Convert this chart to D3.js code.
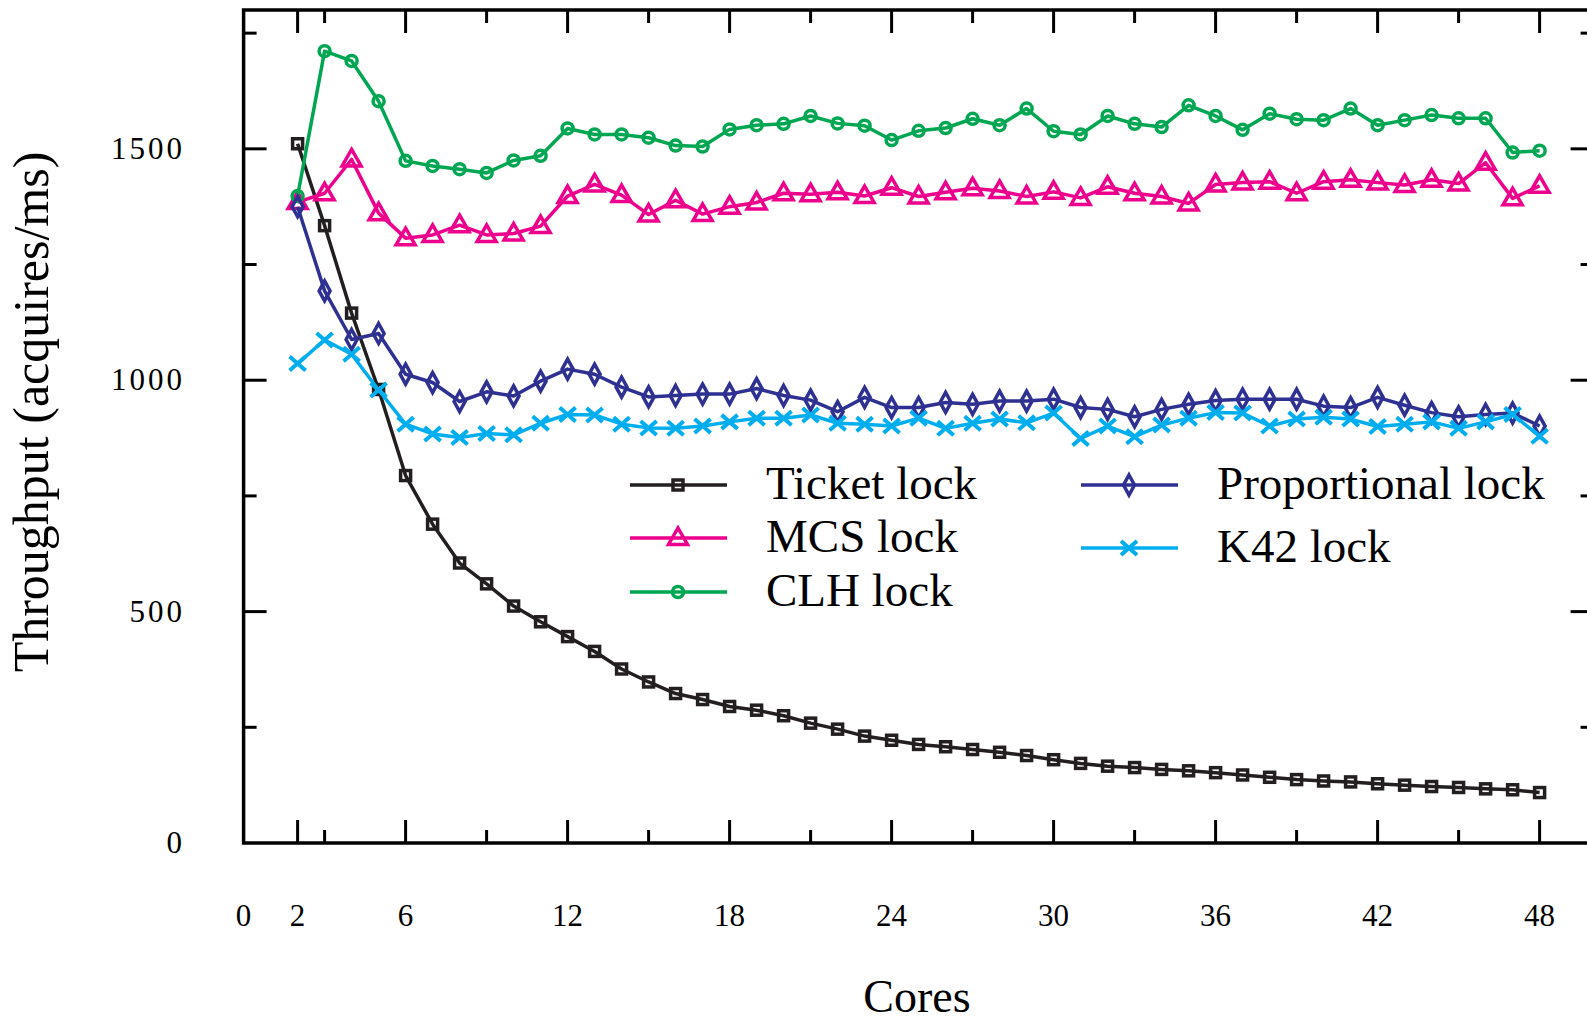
<!DOCTYPE html>
<html>
<head>
<meta charset="utf-8">
<script src="https://d3js.org/d3.v7.min.js"></script>
<style>
body { margin: 0; background: #fff; }
text { font-family: "Liberation Serif", "Times New Roman", serif; fill: #000; }
</style>
</head>
<body>
<div id="chart"></div>
<script>
var cores = [2,3,4,5,6,7,8,9,10,11,12,13,14,15,16,17,18,19,20,21,22,23,24,25,
    26,27,28,29,30,31,32,33,34,35,36,37,38,39,40,41,42,43,44,45,46,47,48];

var ticketLock = [1511,1334,1145,980,794,689,605,560,512,478,446,414,376,348,323,310,295,287,275,259,
    246,231,222,213,208,202,196,189,180,172,166,163,159,156,152,147,142,137,134,132,128,125,122,120,117,115,109];
var mcsLock = [1385,1404,1477,1361,1307,1314,1335,1314,1317,1333,1398,1423,1400,1358,1389,1359,1375,1384,1404,1402,
    1406,1398,1416,1397,1406,1415,1409,1397,1407,1394,1418,1404,1397,1382,1423,1427,1429,1404,1429,1433,1427,1422,1433,1425,1470,1393,1420];
var clhLock = [1398,1711,1690,1603,1474,1463,1456,1448,1475,1485,1544,1531,1531,1524,1507,1505,1542,1551,1554,1571,
    1555,1550,1519,1539,1545,1565,1551,1587,1538,1531,1571,1554,1547,1594,1571,1541,1576,1564,1562,1587,1551,1562,1573,1566,1566,1492,1496];
var propLock = [1375,1193,1088,1101,1013,995,954,975,966,998,1024,1013,985,964,967,970,970,982,967,957,
    932,963,941,941,952,948,955,955,959,941,937,921,937,948,956,959,959,959,944,941,963,946,930,921,926,929,901];
var k42Lock = [1036,1087,1056,979,905,884,876,885,882,907,926,925,905,897,896,901,910,918,918,925,
    907,905,901,918,896,907,916,908,929,874,901,878,903,918,930,929,901,916,920,916,900,905,910,896,910,926,879];

var seriesNames = ["Ticket lock", "MCS lock", "CLH lock", "Proportional lock", "K42 lock"];
var seriesColors = ["#231f20", "#ec008c", "#00a651", "#2e3192", "#00aeef"];
var seriesMarkers = ["square", "triangle", "circle", "diamond", "cross"];

var xTickLabels = [0, 2, 6, 12, 18, 24, 30, 36, 42, 48];
var xMinorTicks = [3, 9, 15, 21, 27, 33, 39, 45];
var yTickLabels = [0, 500, 1000, 1500];
var yMinorTicks = [250, 750, 1250, 1750];

var width = 1587, height = 1021;

var x = d3.scaleLinear()
    .domain([0, 50])
    .range([243.6, 1593.6]);
var y = d3.scaleLinear()
    .domain([0, 1800])
    .range([843, 10]);

var svg = d3.select("#chart")
    .append("svg")
    .attr("width", width)
    .attr("height", height);

// frame
svg.append("rect")
    .attr("x", x(0))
    .attr("y", y(1800))
    .attr("width", x(50) - x(0))
    .attr("height", y(0) - y(1800))
    .attr("fill", "none")
    .attr("stroke", "#000")
    .attr("stroke-width", 3.5);

// ticks on all four sides
var majorLen = 23, minorLen = 13;
var xt = svg.append("g").attr("stroke", "#000").attr("stroke-width", 3);
xTickLabels.slice(1).forEach(function(v) {
    xt.append("line").attr("x1", x(v)).attr("x2", x(v)).attr("y1", y(0)).attr("y2", y(0) - majorLen)
    xt.append("line").attr("x1", x(v)).attr("x2", x(v)).attr("y1", y(1800)).attr("y2", y(1800) + majorLen)
})
xMinorTicks.forEach(function(v) {
    xt.append("line").attr("x1", x(v)).attr("x2", x(v)).attr("y1", y(0)).attr("y2", y(0) - minorLen)
    xt.append("line").attr("x1", x(v)).attr("x2", x(v)).attr("y1", y(1800)).attr("y2", y(1800) + minorLen)
})
yTickLabels.slice(1).forEach(function(v) {
    xt.append("line").attr("x1", x(0)).attr("x2", x(0) + majorLen).attr("y1", y(v)).attr("y2", y(v))
    xt.append("line").attr("x1", x(50)).attr("x2", x(50) - majorLen).attr("y1", y(v)).attr("y2", y(v))
})
yMinorTicks.forEach(function(v) {
    xt.append("line").attr("x1", x(0)).attr("x2", x(0) + minorLen).attr("y1", y(v)).attr("y2", y(v))
    xt.append("line").attr("x1", x(50)).attr("x2", x(50) - minorLen).attr("y1", y(v)).attr("y2", y(v))
})

// tick labels
svg.append("g")
    .selectAll("text")
    .data(xTickLabels)
    .enter()
    .append("text")
    .attr("x", function(d) { return x(d) })
    .attr("y", 926)
    .attr("text-anchor", "middle")
    .style("font-size", "31px")
    .text(function(d) { return d });

svg.append("g")
    .selectAll("text")
    .data(yTickLabels)
    .enter()
    .append("text")
    .attr("x", 185)
    .attr("y", function(d) { return y(d) + 10 })
    .attr("text-anchor", "end")
    .style("font-size", "31px")
    .style("letter-spacing", "3px")
    .text(function(d) { return d });

// axis titles
svg.append("text")
    .attr("x", 917)
    .attr("y", 1012)
    .attr("text-anchor", "middle")
    .style("font-size", "46px")
    .text("Cores");

svg.append("text")
    .attr("transform", "translate(48,412) rotate(-90)")
    .attr("text-anchor", "middle")
    .style("font-size", "50px")
    .text("Throughput (acquires/ms)");

function drawMarker(g, type, cx, cy, color) {
    if (type == "square") {
        g.append("rect").attr("x", cx - 5).attr("y", cy - 5).attr("width", 10).attr("height", 10)
            .attr("fill", "none").attr("stroke", color).attr("stroke-width", 3.5)
    } else if (type == "circle") {
        g.append("circle").attr("cx", cx).attr("cy", cy).attr("r", 5.5)
            .attr("fill", "none").attr("stroke", color).attr("stroke-width", 3.5)
    } else if (type == "triangle") {
        g.append("path")
            .attr("d", "M" + cx + "," + (cy - 10) + "L" + (cx + 9.5) + "," + (cy + 6.5) + "L" + (cx - 9.5) + "," + (cy + 6.5) + "Z")
            .attr("fill", "none").attr("stroke", color).attr("stroke-width", 3.5).attr("stroke-linejoin", "miter")
    } else if (type == "diamond") {
        g.append("path")
            .attr("d", "M" + cx + "," + (cy - 10) + "L" + (cx + 5.5) + "," + cy + "L" + cx + "," + (cy + 10) + "L" + (cx - 5.5) + "," + cy + "Z")
            .attr("fill", "none").attr("stroke", color).attr("stroke-width", 3.5)
    } else {
        g.append("path")
            .attr("d", "M" + (cx - 8) + "," + (cy - 7) + "L" + (cx + 8) + "," + (cy + 7) + "M" + (cx - 8) + "," + (cy + 7) + "L" + (cx + 8) + "," + (cy - 7))
            .attr("fill", "none").attr("stroke", color).attr("stroke-width", 4)
    }
}

var allSeries = [ticketLock, mcsLock, clhLock, propLock, k42Lock];

allSeries.forEach(function(vals, i) {
    var pts = cores.map(function(c, j) { return {Core: c, Value: vals[j]} });
    var g = svg.append("g");
    g.append("path")
        .datum(pts)
        .attr("fill", "none")
        .attr("stroke", seriesColors[i])
        .attr("stroke-width", 3.5)
        .attr("stroke-linejoin", "round")
        .attr("d", d3.line()
            .x(function(d) { return x(d.Core) })
            .y(function(d) { return y(d.Value) })
        );
    pts.forEach(function(d) {
        drawMarker(g, seriesMarkers[i], x(d.Core), y(d.Value), seriesColors[i])
    })
})

// legend, two columns
var legendPos = [
    {lx: 630, ly: 485, tx: 766},
    {lx: 630, ly: 538, tx: 766},
    {lx: 630, ly: 592, tx: 766},
    {lx: 1081, ly: 485, tx: 1217},
    {lx: 1081, ly: 548, tx: 1217}
];
var legend = svg.append("g");
legendPos.forEach(function(p, i) {
    legend.append("line")
        .attr("x1", p.lx).attr("x2", p.lx + 97)
        .attr("y1", p.ly).attr("y2", p.ly)
        .attr("stroke", seriesColors[i])
        .attr("stroke-width", 3.5);
    drawMarker(legend, seriesMarkers[i], p.lx + 48, p.ly, seriesColors[i]);
    legend.append("text")
        .attr("x", p.tx)
        .attr("y", p.ly + 14)
        .style("font-size", "47px")
        .text(seriesNames[i]);
})
</script>
</body>
</html>
